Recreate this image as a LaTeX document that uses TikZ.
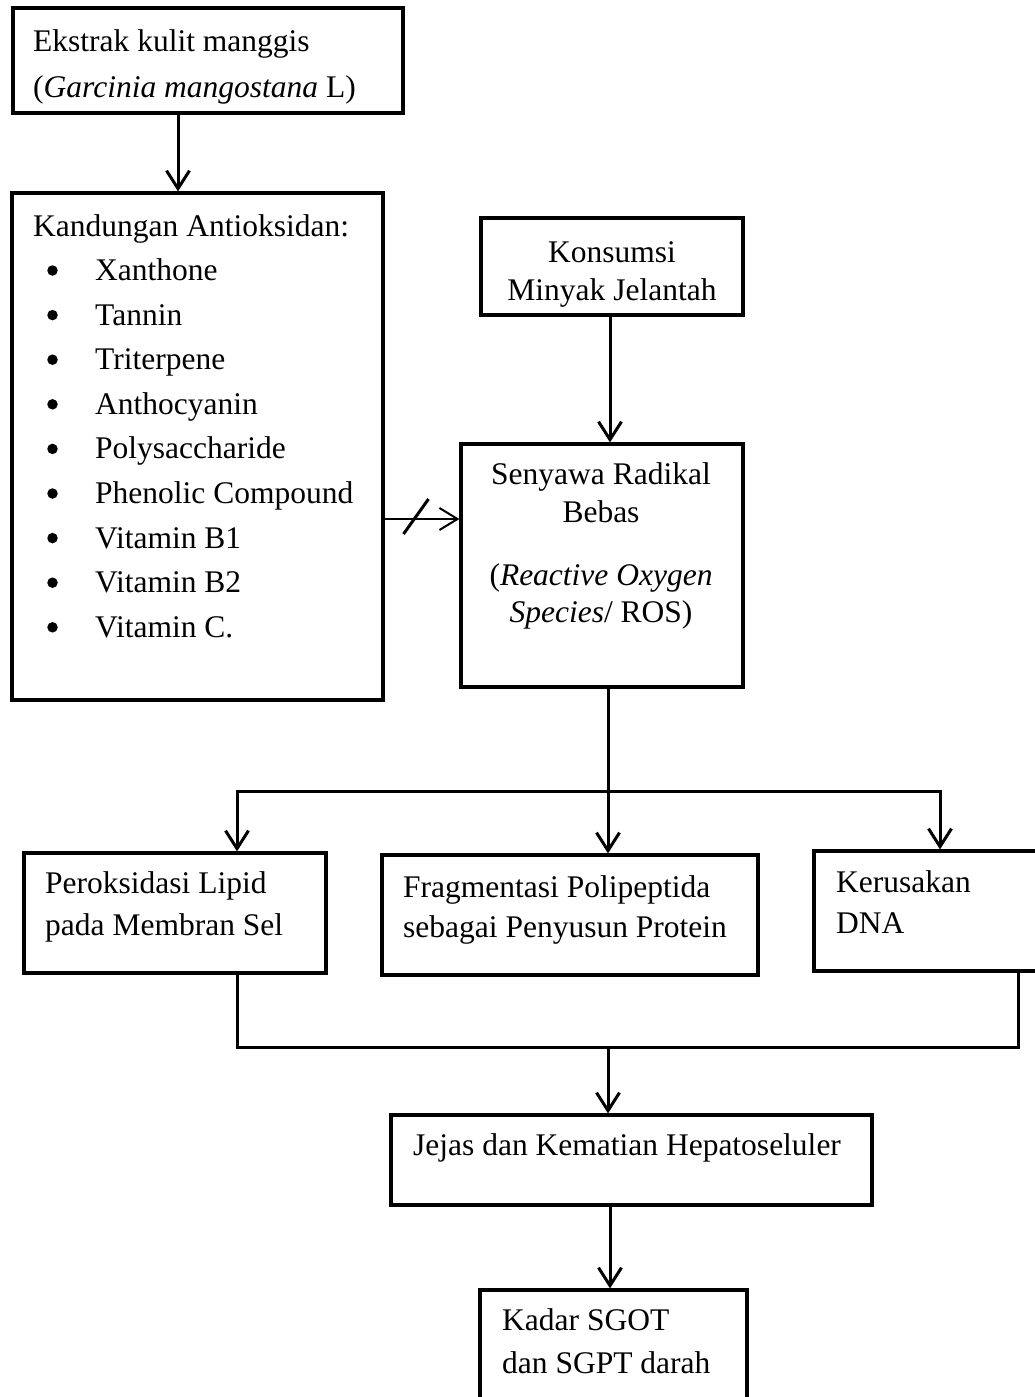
\documentclass[tikz,border=0pt]{standalone}
\usepackage{fontspec}
\setmainfont{Liberation Serif}
\usetikzlibrary{arrows.meta}
\begin{document}
\begin{tikzpicture}[x=1pt,y=-1pt,
  box/.style={draw,line width=3.2pt,rectangle,inner sep=0pt},
  txt/.style={inner sep=0pt,anchor=base west,font=\fontsize{31.5}{38}\selectfont},
  ctxt/.style={inner sep=0pt,anchor=base,font=\fontsize{31.5}{38}\selectfont},
  arr/.style={-{Straight Barb[length=18pt,width=23pt]},line width=3pt},
  conn/.style={line width=3pt},
  bul/.style={circle,fill,inner sep=0pt,minimum size=10.5pt}]
\useasboundingbox (0,0) rectangle (1035,1397);
\clip (0,0) rectangle (1035,1397);
\fill[white] (0,0) rectangle (1035,1397);

% boxes
\node[box,minimum width=390pt,minimum height=105pt] (b1) at (208,60.5) {};
\node[box,minimum width=371pt,minimum height=507pt] (b2) at (197.5,446.5) {};
\node[box,minimum width=262pt,minimum height=97pt] (b3) at (612,266.5) {};
\node[box,minimum width=282pt,minimum height=243pt] (b4) at (602,565.5) {};
\node[box,minimum width=302pt,minimum height=120pt] (b5) at (175,913) {};
\node[box,minimum width=376pt,minimum height=120pt] (b6) at (570,915) {};
\node[box,minimum width=231pt,minimum height=120pt] (b7) at (929.5,911) {};
\node[box,minimum width=481pt,minimum height=90pt] (b8) at (631.5,1160) {};
\node[box,minimum width=267pt,minimum height=130pt] (b9) at (613.5,1355) {};

% texts
\node[txt] (t1a) at (33,52) {Ekstrak kulit manggis};
\node[txt] (t1b) at (33,97) {(\textit{Garcinia mangostana} L)};

\node[txt] (t2) at (33,236) {Kandungan Antioksidan:};
\foreach \i/\s in {0/Xanthone,1/Tannin,2/Triterpene,3/Anthocyanin,4/Polysaccharide,5/Phenolic Compound,6/Vitamin B1,7/Vitamin B2,8/Vitamin C.}{
  \node[txt] (it\i) at (95,{280.5+\i*44.6}) {\s};
  \node[bul] (bu\i) at (52.5,{280.5+\i*44.6-10}) {};
}

\node[ctxt] (t3a) at (612,262) {Konsumsi};
\node[ctxt] (t3b) at (612,300) {Minyak Jelantah};

\node[ctxt] (t4a) at (601,484) {Senyawa Radikal};
\node[ctxt] (t4b) at (601,522) {Bebas};
\node[ctxt] (t4c) at (601,585) {(\textit{Reactive Oxygen}};
\node[ctxt] (t4d) at (601,622) {\textit{Species}/ ROS)};

\node[txt] (t5a) at (45,893) {Peroksidasi Lipid};
\node[txt] (t5b) at (45,935) {pada Membran Sel};

\node[txt] (t6a) at (403,897) {Fragmentasi Polipeptida};
\node[txt] (t6b) at (403,937) {sebagai Penyusun Protein};

\node[txt] (t7a) at (836,892) {Kerusakan};
\node[txt] (t7b) at (836,933) {DNA};

\node[txt] (t8) at (413,1155) {Jejas dan Kematian Hepatoseluler};

\node[txt] (t9a) at (502,1330) {Kadar SGOT};
\node[txt] (t9b) at (502,1373) {dan SGPT darah};

% lane coordinates
\coordinate (c1) at (178,0);
\coordinate (cm) at (610,0);
\coordinate (cb) at (0,519);
\coordinate (sp) at (608,791);
\coordinate (hl) at (237,791);
\coordinate (hr) at (940,791);
\coordinate (jl) at (237,1047);
\coordinate (jr) at (1018,1047);
\coordinate (jm) at (608,1047);

% connectors
\draw[arr] (b1.south -| c1) -- (b2.north -| c1);
\draw[arr] (b3.south -| cm) -- (b4.north -| cm);
\draw[-{Straight Barb[length=18pt,width=22pt]},line width=2pt]
  (b2.east |- cb) -- coordinate[pos=0.42] (sl) (b4.west |- cb);
\draw[line width=3pt] ([shift={(-12.5,15)}]sl) -- ([shift={(12.5,-20)}]sl);

\draw[conn] (b4.south -| sp) -- (sp);
\draw[arr] (sp) -- (hl) -- (hl |- b5.north);
\draw[arr] (sp) -- (hr) -- (hr |- b7.north);
\draw[arr] (sp) -- (sp |- b6.north);

\draw[conn] (b5.south -| jl) -- (jl) -- (jr) -- (b7.south -| jr);
\draw[arr] (jm) -- (b8.north -| jm);
\draw[arr] (b8.south -| cm) -- (b9.north -| cm);
\end{tikzpicture}
\end{document}
